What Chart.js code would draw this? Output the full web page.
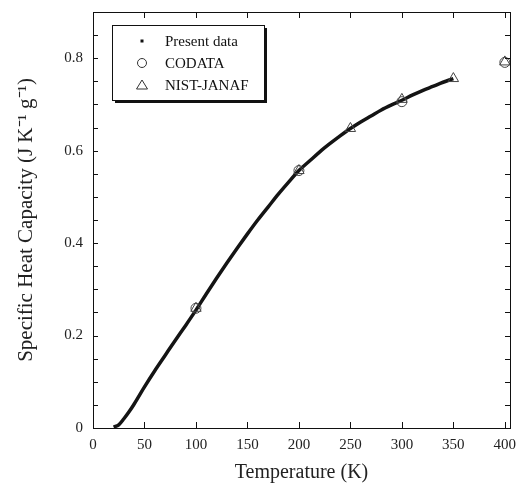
<!DOCTYPE html>
<html>
<head>
<meta charset="utf-8">
<script src="https://cdn.jsdelivr.net/npm/chart.js@4.4.0/dist/chart.umd.min.js"></script>
<style>
  html, body { margin: 0; padding: 0; background: #fff; }
  #wrap { width: 521px; height: 488px; }
</style>
</head>
<body>
<div id="wrap"><canvas id="cpChart" width="521" height="488"></canvas></div>
<script>
// Present data
const presentT = [20, 25, 30, 35, 40, 50, 60, 70, 80, 90, 100, 110, 120, 130, 140, 150, 160, 170, 180, 190,
    200, 210, 220, 230, 240, 250, 260, 270, 280, 290, 300, 310, 320, 330, 340, 350];
const presentCp = [0.002, 0.007, 0.020, 0.035, 0.052, 0.089, 0.124, 0.157, 0.190, 0.222, 0.255, 0.290, 0.324,
    0.357, 0.389, 0.420, 0.450, 0.478, 0.506, 0.532, 0.557, 0.577, 0.597, 0.615, 0.632, 0.648, 0.662, 0.675,
    0.688, 0.699, 0.709, 0.720, 0.730, 0.739, 0.748, 0.756];

// CODATA reference values
const codataT = [100, 200, 300, 400];
const codataCp = [0.259, 0.557, 0.706, 0.791];

// NIST-JANAF reference values
const nistT = [100, 200, 250, 300, 350, 400];
const nistCp = [0.259, 0.557, 0.648, 0.711, 0.756, 0.792];

const xTicks = [0, 50, 100, 150, 200, 250, 300, 350, 400];

const serif = 'Liberation Serif';

function toPoints(xs, ys) {
    return xs.map((x, i) => ({ x: x, y: ys[i] }));
}

// Draws the frame, inward ticks on all sides and the boxed legend
const framePlugin = {
    id: 'framePlugin',
    afterDraw(chart) {
        const ctx = chart.ctx;
        const area = chart.chartArea;
        const xs = chart.scales.x;
        const ys = chart.scales.y;
        ctx.save();
        ctx.strokeStyle = '#111';
        ctx.lineWidth = 1;
        ctx.strokeRect(area.left + 0.5, area.top + 0.5, area.right - area.left, area.bottom - area.top);

        ctx.beginPath();
        xs.ticks.forEach(t => {
            const px = Math.round(xs.getPixelForValue(t.value)) + 0.5;
            ctx.moveTo(px, area.bottom);
            ctx.lineTo(px, area.bottom - 6);
            ctx.moveTo(px, area.top);
            ctx.lineTo(px, area.top + 6);
        });
        ys.ticks.forEach(t => {
            const py = Math.round(ys.getPixelForValue(t.value)) + 0.5;
            ctx.moveTo(area.left, py);
            ctx.lineTo(area.left + 5, py);
            ctx.moveTo(area.right, py);
            ctx.lineTo(area.right - 5, py);
        });
        ctx.stroke();

        // legend box with shadow
        const bx = area.left + 19, by = area.top + 13, bw = 152, bh = 75;
        ctx.fillStyle = '#111';
        ctx.fillRect(bx + 3, by + 3, bw, bh);
        ctx.fillStyle = '#fff';
        ctx.fillRect(bx, by, bw, bh);
        ctx.strokeRect(bx + 0.5, by + 0.5, bw, bh);

        const labels = chart.data.datasets.map(d => d.label);
        const mx = bx + 30;
        const tx = bx + 53;
        const rows = [by + 16, by + 38, by + 60];
        ctx.font = '15px "' + serif + '"';
        ctx.textBaseline = 'middle';
        ctx.fillStyle = '#111';
        labels.forEach((lab, i) => ctx.fillText(lab, tx, rows[i] + 1));

        ctx.fillRect(mx - 1.5, rows[0] - 1.5, 3, 3);
        ctx.strokeStyle = '#333';
        ctx.beginPath();
        ctx.arc(mx, rows[1], 4.5, 0, Math.PI * 2);
        ctx.stroke();
        ctx.beginPath();
        ctx.moveTo(mx, rows[2] - 5);
        ctx.lineTo(mx + 5.5, rows[2] + 4);
        ctx.lineTo(mx - 5.5, rows[2] + 4);
        ctx.closePath();
        ctx.stroke();
        ctx.restore();
    }
};

const ctx = document.getElementById('cpChart').getContext('2d');
new Chart(ctx, {
    type: 'scatter',
    data: {
        datasets: [
            {
                label: 'Present data',
                data: toPoints(presentT, presentCp),
                showLine: true,
                borderColor: '#141414',
                borderWidth: 3.5,
                cubicInterpolationMode: 'monotone',
                pointRadius: 0,
                order: 3,
            },
            {
                label: 'CODATA',
                data: toPoints(codataT, codataCp),
                pointStyle: 'circle',
                pointRadius: 5,
                borderColor: '#444',
                borderWidth: 1,
                backgroundColor: 'rgba(0,0,0,0)',
                order: 1,
            },
            {
                label: 'NIST-JANAF',
                data: toPoints(nistT, nistCp),
                pointStyle: 'triangle',
                pointRadius: 6,
                borderColor: '#444',
                borderWidth: 1,
                backgroundColor: 'rgba(0,0,0,0)',
                order: 2,
            },
        ],
    },
    options: {
        responsive: false,
        animation: false,
        layout: { padding: { left: 0, right: 11, top: 12, bottom: 0 } },
        plugins: {
            legend: { display: false },
            tooltip: { enabled: false },
        },
        scales: {
            x: {
                type: 'linear',
                min: 0,
                max: 405,
                afterBuildTicks: (scale) => {
                    scale.ticks = xTicks.map(v => ({ value: v }));
                },
                afterFit: (scale) => {
                    scale.height = 60;
                    scale.paddingLeft = 0;
                    scale.paddingRight = 0;
                },
                grid: { display: false, drawTicks: false },
                border: { display: false },
                ticks: {
                    color: '#222',
                    padding: 8,
                    maxRotation: 0,
                    font: { family: serif, size: 15 },
                },
                title: {
                    display: true,
                    text: 'Temperature (K)',
                    color: '#222',
                    padding: { top: 0, bottom: 3 },
                    font: { family: serif, size: 20 },
                },
            },
            y: {
                min: 0,
                max: 0.9,
                afterFit: (scale) => {
                    scale.width = 93;
                    scale.paddingTop = 0;
                    scale.paddingBottom = 0;
                },
                grid: { display: false, drawTicks: false },
                border: { display: false },
                ticks: {
                    stepSize: 0.05,
                    autoSkip: false,
                    color: '#222',
                    padding: 10,
                    font: { family: serif, size: 15 },
                    callback: (value) => {
                        const v = Math.round(value * 100);
                        return v % 20 === 0 ? String(v / 100) : '';
                    },
                },
                title: {
                    display: true,
                    text: 'Specific Heat Capacity (J K\u207B\u00B9 g\u207B\u00B9)',
                    color: '#222',
                    padding: { top: 14, bottom: 0 },
                    font: { family: serif, size: 21 },
                },
            },
        },
    },
    plugins: [framePlugin],
});
</script>
</body>
</html>
